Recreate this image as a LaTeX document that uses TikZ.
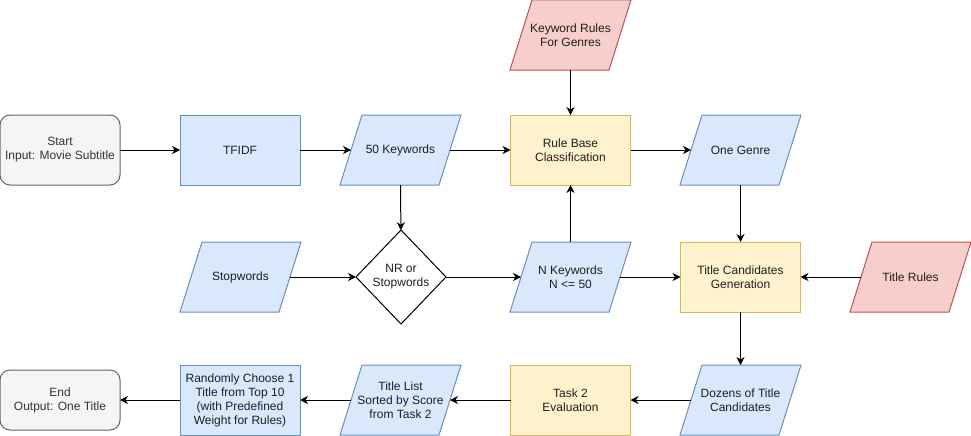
\documentclass[tikz,border=0pt]{standalone}
\usepackage{fontspec}
\setmainfont{Liberation Sans}
\usetikzlibrary{shapes.geometric,arrows.meta,backgrounds}
\definecolor{bfill}{HTML}{DAE8FC}\definecolor{bline}{HTML}{6C8EBF}
\definecolor{yfill}{HTML}{FFF2CC}\definecolor{yline}{HTML}{D6B656}
\definecolor{rfill}{HTML}{F8CECC}\definecolor{rline}{HTML}{B85450}
\definecolor{gfill}{HTML}{F5F5F5}\definecolor{gline}{HTML}{666666}
\definecolor{gtext}{HTML}{333333}
\tikzset{
  base/.style={align=center, font=\fontsize{12}{14}\selectfont, line width=1pt, inner sep=2pt, outer sep=0pt, text=black!88},
  termbox/.style={base, rectangle, rounded corners=10pt, draw=gline, fill=gfill, text=gtext, minimum width=120pt, minimum height=70pt},
  procblue/.style={base, rectangle, draw=bline, fill=bfill, minimum width=120pt, minimum height=70pt},
  procyellow/.style={base, rectangle, draw=yline, fill=yfill, minimum width=120pt, minimum height=70pt},
  paranode/.style={base, rectangle, minimum width=99pt, minimum height=70pt},
  parashape/.style={line width=1pt},
  decision/.style={base, diamond, draw=black, fill=white, aspect=0.96, minimum width=90pt, minimum height=94pt, inner sep=0pt},
  conn/.style={line width=1pt, -{Stealth[length=8pt,width=8pt,inset=2.5pt]}}
}
\newcommand{\drawpara}[3]{%
  \path[parashape, draw=#3, fill=#2] ([xshift=11pt]#1.north west) -- ([xshift=11pt]#1.north east)
    -- ([xshift=-11pt]#1.south east) -- ([xshift=-11pt]#1.south west) -- cycle;}
\begin{document}
\begin{tikzpicture}[x=1pt,y=-1pt]
\useasboundingbox (0,0) rectangle (971,436);
\node[termbox] (start) at (60,150) {Start\\Input: Movie Subtitle};
\node[procblue] (tfidf) at (240,150) {TFIDF};
\node[paranode] (kw50) at (400.5,150) {50 Keywords};
\node[procyellow] (rule) at (570.5,150) {Rule Base\\Classification};
\node[paranode] (genre) at (740.5,150) {One Genre};
\node[paranode] (kwrules) at (570.5,35) {Keyword Rules\\For Genres};
\node[paranode] (stop) at (240.5,277) {Stopwords};
\node[decision] (nr) at (401,277) {NR or\\Stopwords};
\node[paranode] (nk) at (570.5,277) {N Keywords\\N <= 50};
\node[procyellow] (tcg) at (740.5,277) {Title Candidates\\Generation};
\node[paranode] (trules) at (910.5,277) {Title Rules};
\node[paranode] (dozens) at (740.5,400) {Dozens of Title\\Candidates};
\node[procyellow] (task2) at (570.5,400) {Task 2\\Evaluation};
\node[paranode] (tlist) at (400.5,400) {Title List\\Sorted by Score\\from Task 2};
\node[procblue] (rand) at (240,400) {Randomly Choose 1\\Title from Top 10\\(with Predefined\\Weight for Rules)};
\node[termbox, minimum height=60pt] (end) at (60,400) {End\\Output: One Title};
\begin{scope}[on background layer]
  \drawpara{kw50}{bfill}{bline}
  \drawpara{genre}{bfill}{bline}
  \drawpara{kwrules}{rfill}{rline}
  \drawpara{stop}{bfill}{bline}
  \drawpara{nk}{bfill}{bline}
  \drawpara{trules}{rfill}{rline}
  \drawpara{dozens}{bfill}{bline}
  \drawpara{tlist}{bfill}{bline}
\end{scope}
\draw[conn] (start) -- (tfidf);
\draw[conn] (tfidf) -- (kw50);
\draw[conn] (kw50) -- (rule);
\draw[conn] (kwrules) -- (rule);
\draw[conn] (rule) -- (genre);
\draw[conn] (genre) -- (tcg);
\draw[conn] (kw50) -- (nr);
\draw[conn] (stop) -- (nr);
\draw[conn] (nr) -- (nk);
\draw[conn] (nk) -- (rule);
\draw[conn] (nk) -- (tcg);
\draw[conn] (trules) -- (tcg);
\draw[conn] (tcg) -- (dozens);
\draw[conn] (dozens) -- (task2);
\draw[conn] (task2) -- (tlist);
\draw[conn] (tlist) -- (rand);
\draw[conn] (rand) -- (end);
\end{tikzpicture}
\end{document}
